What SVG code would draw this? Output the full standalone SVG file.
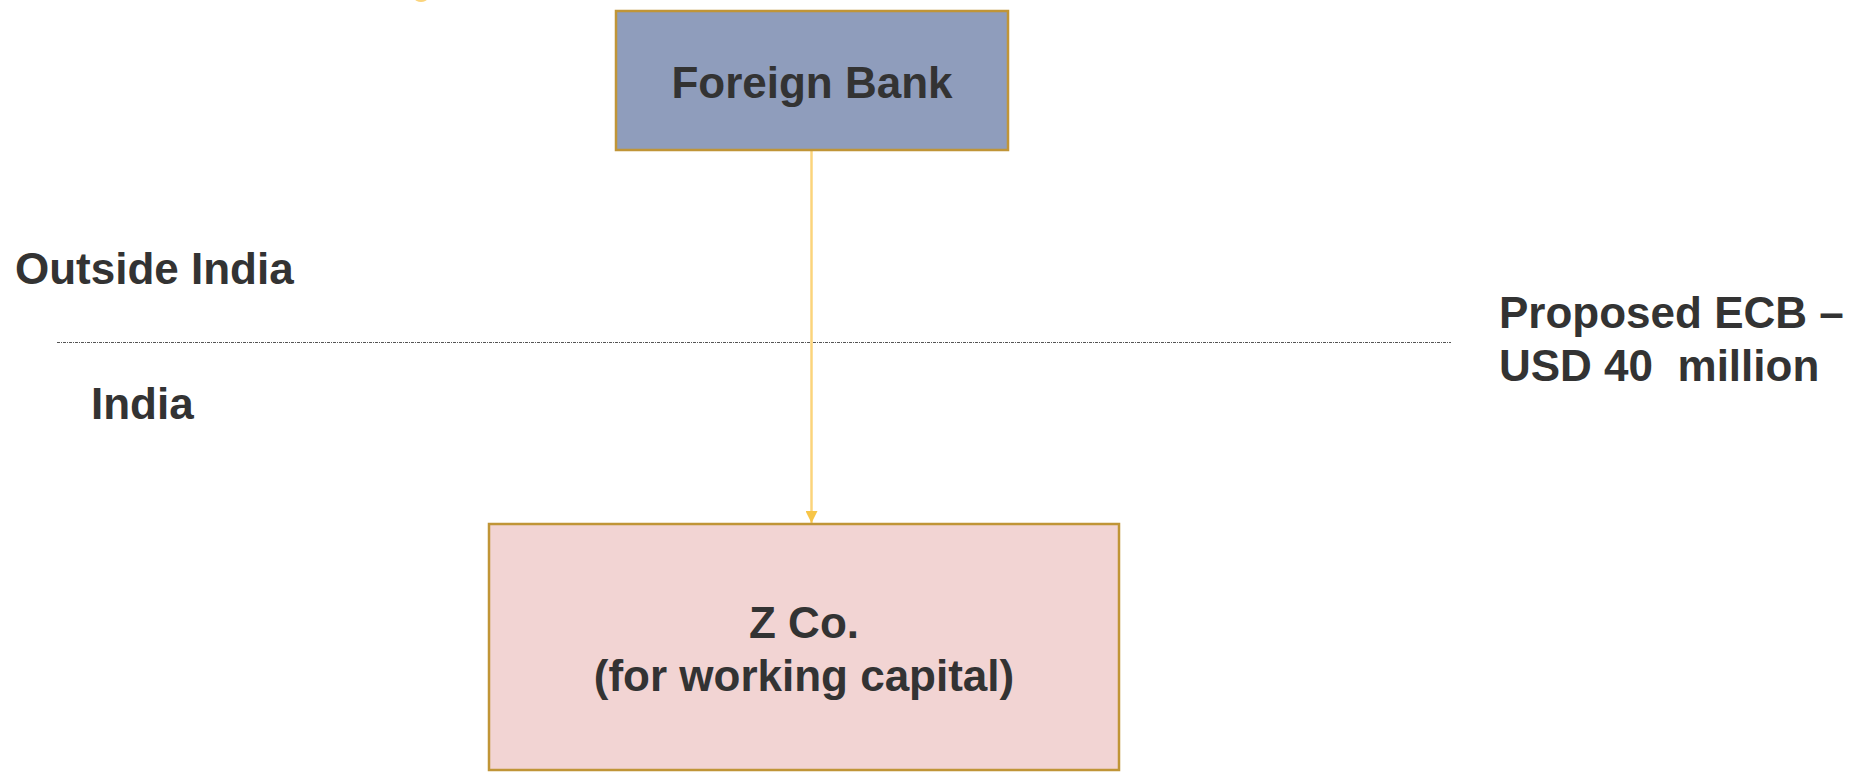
<svg xmlns="http://www.w3.org/2000/svg" width="1849" height="775" viewBox="0 0 1849 775">
<style>
.t{font-family:"Liberation Sans",Arial,sans-serif;font-weight:bold;font-size:44px;fill:#333333}
.box{stroke:#c09537;stroke-width:2.5}
</style>
<defs>
<marker id="arr" markerWidth="12" markerHeight="12" refX="12" refY="6" orient="auto" markerUnits="userSpaceOnUse">
<path d="M0,0 L12,6 L0,12 Z" fill="#f7c548"/>
</marker>
</defs>
<rect width="1849" height="775" fill="#ffffff"/>
<ellipse cx="421" cy="-1" rx="6" ry="3" fill="#fbd47c"/>
<line x1="57" y1="342.5" x2="1451" y2="342.5" stroke="#555555" stroke-width="1" stroke-dasharray="3 1 1 1"/>
<g id="connectors">
<line x1="811.5" y1="150" x2="811.5" y2="523" stroke="#fbd47c" stroke-width="2.5" marker-end="url(#arr)"/>
</g>
<g id="foreign-bank">
<rect class="box" x="616" y="11" width="392" height="139" fill="#8f9dbc"/>
<text class="t" x="812" y="98" text-anchor="middle">Foreign Bank</text>
</g>
<g id="z-co">
<rect class="box" x="489" y="524" width="630" height="246" fill="#f2d4d3"/>
<text class="t" x="804" y="638" text-anchor="middle">Z Co.</text>
<text class="t" x="804" y="691" text-anchor="middle">(for working capital)</text>
</g>
<g id="outside-india">
<text class="t" x="15" y="284">Outside India</text>
</g>
<g id="india">
<text class="t" x="91" y="419">India</text>
</g>
<g id="ecb-label">
<text class="t" x="1499" y="328">Proposed ECB –</text>
<text class="t" x="1499" y="381" xml:space="preserve">USD 40  million</text>
</g>
</svg>
